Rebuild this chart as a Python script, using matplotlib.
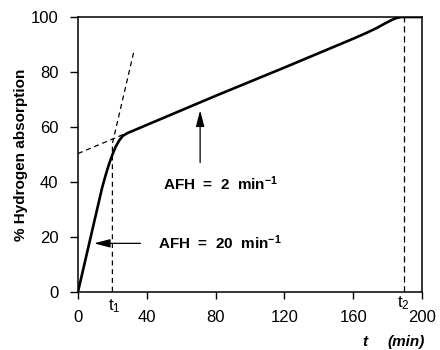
import matplotlib
matplotlib.use('Agg')
import matplotlib.pyplot as plt

plt.rcParams['font.family'] = ['Liberation Sans', 'DejaVu Sans']
plt.rcParams['mathtext.fontset'] = 'custom'
plt.rcParams['mathtext.rm'] = 'Liberation Sans'
plt.rcParams['mathtext.it'] = 'Liberation Sans:italic'
plt.rcParams['mathtext.bf'] = 'Liberation Sans:bold'

# absorption curve
t_curve = [0, 14, 16, 18, 20, 22, 24, 26, 28.6, 80, 120, 160, 168, 174, 178, 182, 185, 188, 200]
h_curve = [0, 37.8, 42.3, 46.4, 49.9, 52.9, 55.1, 56.7, 57.7, 71.3, 81.6, 92.1, 94.3, 96.1, 97.5, 98.8, 99.6, 100, 100]

# construction lines
t1 = 20
t2 = 189.5
steep_t = [t1, t1, 32.5]
steep_h = [0, 54, 87.5]
shallow_t = [0, 27]
shallow_h = [50.3, 57.4]

x_ticks = [0, 40, 80, 120, 160, 200]
y_ticks = [0, 20, 40, 60, 80, 100]

fig = plt.figure(figsize=(4.4, 3.5), dpi=100)
ax = fig.add_axes([0.1773, 0.1666, 0.7818, 0.7848])

ax.plot(t_curve, h_curve, color='k', lw=1.9, solid_joinstyle='round')
ax.plot(steep_t, steep_h, color='k', lw=0.9, ls=(0, (4, 3)))
ax.plot(shallow_t, shallow_h, color='k', lw=0.9, ls=(0, (4, 3)))
ax.plot([t2, t2], [0, 100], color='k', lw=0.9, ls=(0, (5, 3)))

ax.set_xlim(0, 200)
ax.set_ylim(0, 100)
ax.set_xticks(x_ticks)
ax.set_yticks(y_ticks)
ax.tick_params(axis='x', direction='out', length=5, width=1, pad=8.5, labelsize=12)
ax.tick_params(axis='y', direction='out', length=5.5, width=1, pad=8.5, labelsize=12)
for s in ax.spines.values():
    s.set_linewidth(1.1)

ax.set_ylabel('% Hydrogen absorption', fontsize=11, fontweight='bold', labelpad=2)

# arrows and labels
arr = dict(arrowstyle='-|>,head_length=0.65,head_width=0.17', mutation_scale=15,
           color='k', lw=0.9, shrinkA=0, shrinkB=0)
ax.annotate('', xy=(71, 66), xytext=(71, 47), arrowprops=arr)
ax.annotate('', xy=(9.3, 17.6), xytext=(36.3, 17.6), arrowprops=arr)

ax.text(49.5, 39.2, r'AFH  =  2  min$^{\mathbf{-1}}$', fontsize=11, fontweight='bold',
        ha='left', va='center')
ax.text(46.5, 17.8, r'AFH  =  20  min$^{\mathbf{-1}}$', fontsize=11, fontweight='bold',
        ha='left', va='center')

ax.text(21, -5.3, r't$_{1}$', fontsize=12, ha='center', va='center', clip_on=False)
ax.text(189, -4.0, r't$_{2}$', fontsize=12, ha='center', va='center', clip_on=False)

ax.text(167, -18.3, 't', fontsize=11, fontweight='bold', style='italic',
        ha='center', va='center', clip_on=False)
ax.text(190.5, -18.3, '(min)', fontsize=11, fontweight='bold', style='italic',
        ha='center', va='center', clip_on=False)

fig.savefig('out.png', dpi=100)
